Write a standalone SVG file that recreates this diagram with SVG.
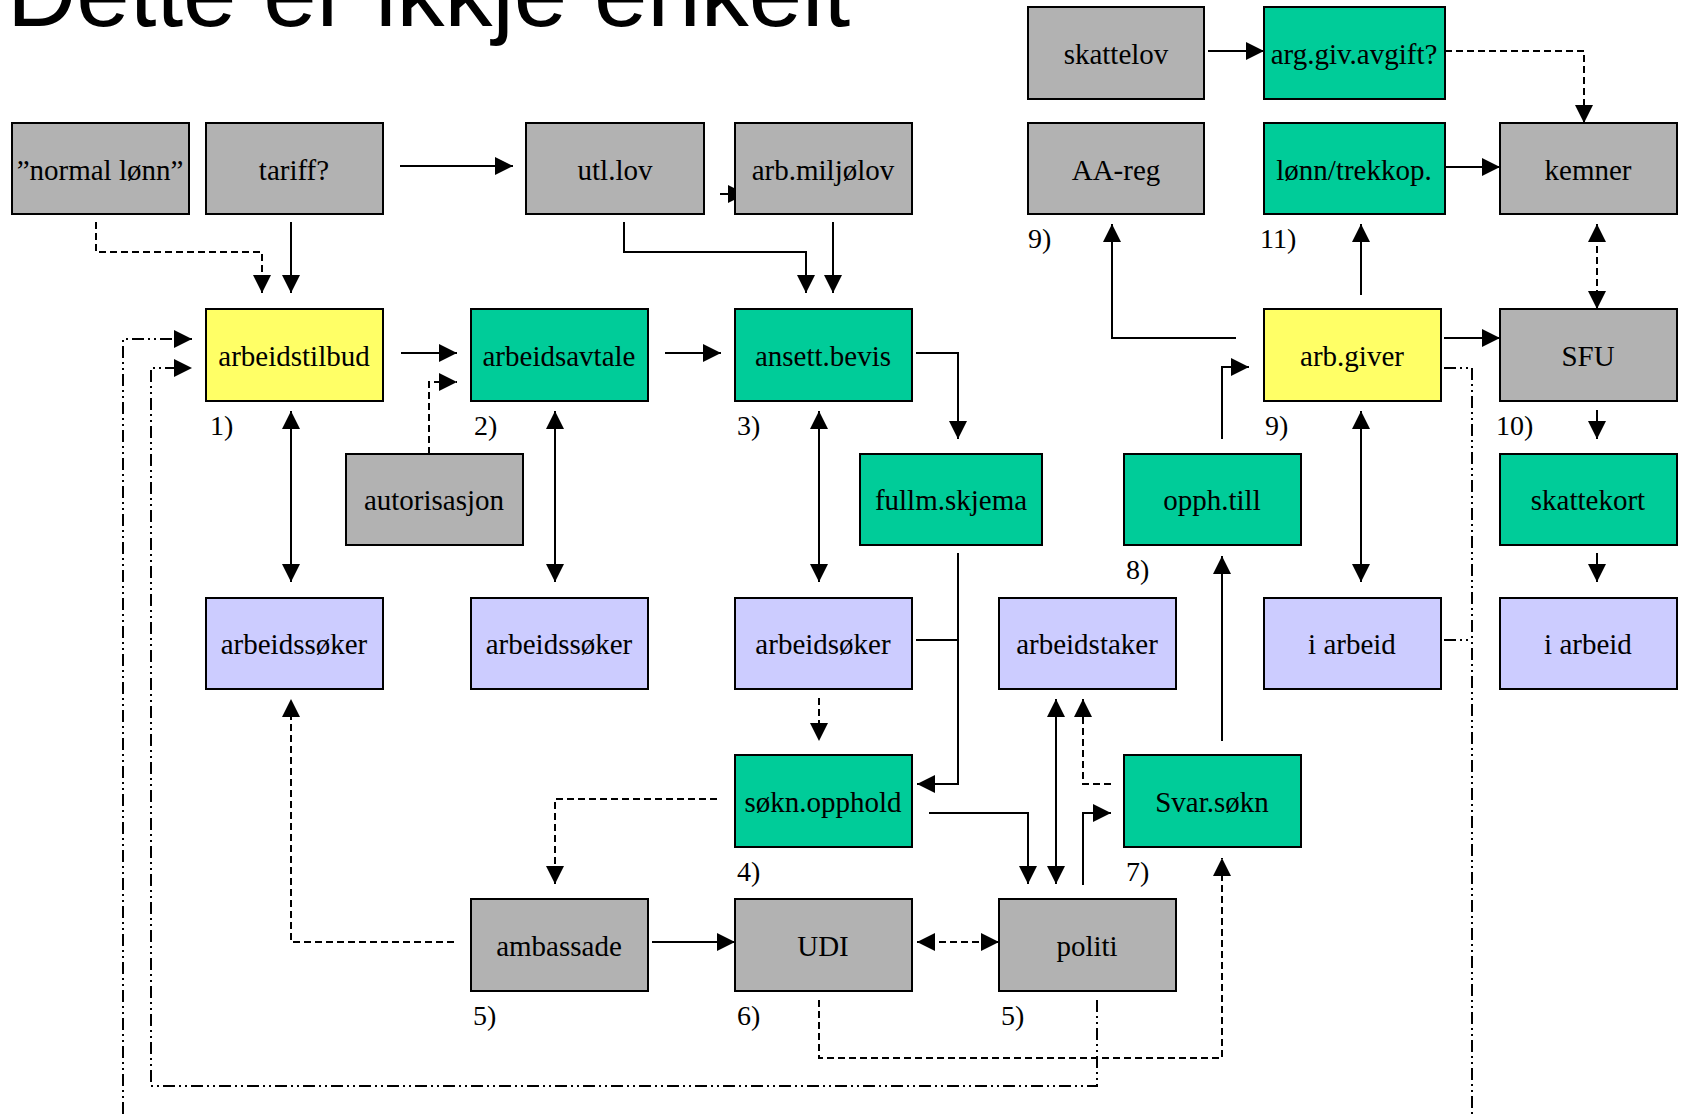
<svg xmlns="http://www.w3.org/2000/svg" width="1684" height="1114" viewBox="0 0 1684 1114">
<style>
.b{stroke:#000;stroke-width:2}
.g{fill:#B2B2B2}
.t{fill:#00CC99}
.y{fill:#FFFF66}
.l{fill:#CCCCFF}
text{font-family:"Liberation Serif","Times New Roman",serif;fill:#000}
.n{font-size:29px;text-anchor:middle}
.k{font-size:28px}
.c path{fill:none;stroke:#000;stroke-width:2}
.c .d{stroke-dasharray:7 4}
.c .dd{stroke-dasharray:12 4 2 4 2 4}
.c .e{marker-end:url(#arr)}
.c .s2{marker-start:url(#arr);marker-end:url(#arr)}
</style>
<defs>
<marker id="arr" markerUnits="userSpaceOnUse" markerWidth="18" markerHeight="18" refX="18" refY="9" orient="auto-start-reverse">
<path d="M0,0 L18,9 L0,18 Z" fill="#000"/>
</marker>
</defs>
<rect width="1684" height="1114" fill="#fff"/>
<text x="7" y="26" style="font-family:'Liberation Sans',Arial,sans-serif;font-size:96px">Dette er ikkje enkelt</text>

<g class="c" id="connectors">
<path class="e" d="M400,166 H513"/>
<path class="e" d="M720,194 H746"/>
<path class="e" d="M291,222 V293"/>
<path class="e" d="M401,353 H457"/>
<path class="s2" d="M291,411 V582"/>
<path class="s2" d="M555,411 V582"/>
<path class="e" d="M665,353 H721"/>
<path class="e" d="M624,222 V252 H806 V293"/>
<path class="e" d="M833,222 V293"/>
<path class="e" d="M916,353 H958 V439"/>
<path class="s2" d="M819,411 V582"/>
<path class="e" d="M958,553 V784 H917"/>
<path d="M916,640 H958"/>
<path class="e" d="M652,942 H735"/>
<path class="e" d="M929,813 H1028 V884"/>
<path class="s2" d="M1056,699 V884"/>
<path class="e" d="M1083,885 V813 H1111"/>
<path class="e" d="M1222,741 V556"/>
<path class="e" d="M1222,439 V367 H1249"/>
<path class="e" d="M1236,338 H1112 V224"/>
<path class="e" d="M1361,295 V224"/>
<path class="s2" d="M1361,411 V582"/>
<path class="e" d="M1444,338 H1500"/>
<path class="e" d="M1597,410 V439"/>
<path class="e" d="M1597,553 V582"/>
<path class="e" d="M1445,167 H1500"/>
<path class="e" d="M1208,51 H1264"/>
<path class="d e" d="M96,222 V252 H262 V293"/>
<path class="d e" d="M429,454 V382 H457"/>
<path class="d e" d="M819,698 V741"/>
<path class="d e" d="M717,799 H555 V884"/>
<path class="d e" d="M454,942 H291 V699"/>
<path class="d s2" d="M917,942 H999"/>
<path class="d e" d="M1111,784 H1083 V699"/>
<path class="d e" d="M819,1000 V1058 H1222 V858"/>
<path class="d s2" d="M1597,224 V309"/>
<path class="d e" d="M1445,51 H1584 V123"/>
<path class="dd e" d="M123,1114 V339 H192"/>
<path class="dd e" d="M1097,1000 V1086 H151 V368 H192"/>
<path class="dd" d="M1444,368 H1472 V1114"/>
<path class="dd" d="M1444,640 H1472"/>
</g>

<g id="skattelov"><rect class="b g" x="1028" y="7" width="176" height="92"/><text class="n" x="1116" y="64">skattelov</text></g>
<g id="arg-giv-avgift"><rect class="b t" x="1264" y="7" width="181" height="92"/><text class="n" x="1354" y="64">arg.giv.avgift?</text></g>
<g id="normal-lonn"><rect class="b g" x="12" y="123" width="177" height="91"/><text class="n" x="100" y="180">”normal lønn”</text></g>
<g id="tariff"><rect class="b g" x="206" y="123" width="177" height="91"/><text class="n" x="294" y="180">tariff?</text></g>
<g id="utl-lov"><rect class="b g" x="526" y="123" width="178" height="91"/><text class="n" x="615" y="180">utl.lov</text></g>
<g id="arb-miljolov"><rect class="b g" x="735" y="123" width="177" height="91"/><text class="n" x="823" y="180">arb.miljølov</text></g>
<g id="aa-reg"><rect class="b g" x="1028" y="123" width="176" height="91"/><text class="n" x="1116" y="180">AA-reg</text></g>
<g id="lonn-trekkop"><rect class="b t" x="1264" y="123" width="181" height="91"/><text class="n" x="1354" y="180">lønn/trekkop.</text></g>
<g id="kemner"><rect class="b g" x="1500" y="123" width="177" height="91"/><text class="n" x="1588" y="180">kemner</text></g>

<g id="arbeidstilbud"><rect class="b y" x="206" y="309" width="177" height="92"/><text class="n" x="294" y="366">arbeidstilbud</text></g>
<g id="arbeidsavtale"><rect class="b t" x="471" y="309" width="177" height="92"/><text class="n" x="559" y="366">arbeidsavtale</text></g>
<g id="ansett-bevis"><rect class="b t" x="735" y="309" width="177" height="92"/><text class="n" x="823" y="366">ansett.bevis</text></g>
<g id="arb-giver"><rect class="b y" x="1264" y="309" width="177" height="92"/><text class="n" x="1352" y="366">arb.giver</text></g>
<g id="sfu"><rect class="b g" x="1500" y="309" width="177" height="92"/><text class="n" x="1588" y="366">SFU</text></g>

<g id="autorisasjon"><rect class="b g" x="346" y="454" width="177" height="91"/><text class="n" x="434" y="510">autorisasjon</text></g>
<g id="fullm-skjema"><rect class="b t" x="860" y="454" width="182" height="91"/><text class="n" x="951" y="510">fullm.skjema</text></g>
<g id="opph-till"><rect class="b t" x="1124" y="454" width="177" height="91"/><text class="n" x="1212" y="510">opph.till</text></g>
<g id="skattekort"><rect class="b t" x="1500" y="454" width="177" height="91"/><text class="n" x="1588" y="510">skattekort</text></g>

<g id="arbeidssoker-1"><rect class="b l" x="206" y="598" width="177" height="91"/><text class="n" x="294" y="654">arbeidssøker</text></g>
<g id="arbeidssoker-2"><rect class="b l" x="471" y="598" width="177" height="91"/><text class="n" x="559" y="654">arbeidssøker</text></g>
<g id="arbeidsoker"><rect class="b l" x="735" y="598" width="177" height="91"/><text class="n" x="823" y="654">arbeidsøker</text></g>
<g id="arbeidstaker"><rect class="b l" x="999" y="598" width="177" height="91"/><text class="n" x="1087" y="654">arbeidstaker</text></g>
<g id="i-arbeid-1"><rect class="b l" x="1264" y="598" width="177" height="91"/><text class="n" x="1352" y="654">i arbeid</text></g>
<g id="i-arbeid-2"><rect class="b l" x="1500" y="598" width="177" height="91"/><text class="n" x="1588" y="654">i arbeid</text></g>

<g id="sokn-opphold"><rect class="b t" x="735" y="755" width="177" height="92"/><text class="n" x="823" y="812">søkn.opphold</text></g>
<g id="svar-sokn"><rect class="b t" x="1124" y="755" width="177" height="92"/><text class="n" x="1212" y="812">Svar.søkn</text></g>

<g id="ambassade"><rect class="b g" x="471" y="899" width="177" height="92"/><text class="n" x="559" y="956">ambassade</text></g>
<g id="udi"><rect class="b g" x="735" y="899" width="177" height="92"/><text class="n" x="823" y="956">UDI</text></g>
<g id="politi"><rect class="b g" x="999" y="899" width="177" height="92"/><text class="n" x="1087" y="956">politi</text></g>

<g id="labels">
<text class="k" x="1028" y="248">9)</text>
<text class="k" x="1260" y="248">11)</text>
<text class="k" x="210" y="435">1)</text>
<text class="k" x="474" y="435">2)</text>
<text class="k" x="737" y="435">3)</text>
<text class="k" x="1265" y="435">9)</text>
<text class="k" x="1496" y="435">10)</text>
<text class="k" x="1126" y="579">8)</text>
<text class="k" x="737" y="881">4)</text>
<text class="k" x="1126" y="881">7)</text>
<text class="k" x="473" y="1025">5)</text>
<text class="k" x="737" y="1025">6)</text>
<text class="k" x="1001" y="1025">5)</text>
</g>
</svg>
